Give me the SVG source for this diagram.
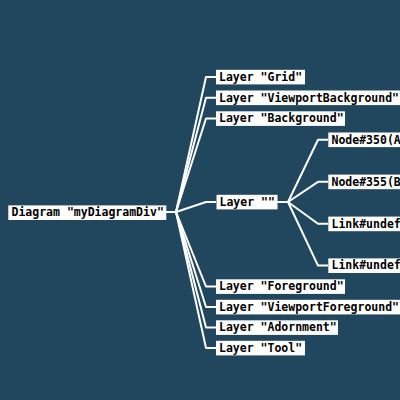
<svg xmlns="http://www.w3.org/2000/svg" width="400" height="400" viewBox="0 0 400 400">
<style>
.box{fill:#ffffff;}
.t{font-family:"DejaVu Sans Mono","Liberation Mono",monospace;font-size:11.5px;font-weight:bold;fill:#000000;}
.ln{fill:none;stroke:#ffffff;stroke-width:2;stroke-linejoin:round;}
</style>
<rect x="0" y="0" width="400" height="400" fill="#21475F"/>
<g id="connectors">
<path class="ln" d="M166,212 L176,212 L206,77 L216,77"/>
<path class="ln" d="M166,212 L176,212 L206,97.7 L216,97.7"/>
<path class="ln" d="M166,212 L176,212 L206,118.5 L216,118.5"/>
<path class="ln" d="M166,212 L176,212 L206,202 L216,202"/>
<path class="ln" d="M166,212 L176,212 L206,286.5 L216,286.5"/>
<path class="ln" d="M166,212 L176,212 L206,307 L216,307"/>
<path class="ln" d="M166,212 L176,212 L206,327.5 L216,327.5"/>
<path class="ln" d="M166,212 L176,212 L206,348 L216,348"/>
<path class="ln" d="M277.5,202 L288,202 L318,139.7 L328,139.7"/>
<path class="ln" d="M277.5,202 L288,202 L318,181.8 L328,181.8"/>
<path class="ln" d="M277.5,202 L288,202 L318,223.8 L328,223.8"/>
<path class="ln" d="M277.5,202 L288,202 L318,265.6 L328,265.6"/>
</g>
<g id="diagram"><rect class="box" x="8.3" y="205.4" width="158" height="14.6"/><text class="t" x="11.5" y="216.2">Diagram "myDiagramDiv"</text></g>
<g id="layer-grid"><rect class="box" x="216" y="69.8" width="89" height="14.6"/><text class="t" x="219" y="80.8">Layer "Grid"</text></g>
<g id="layer-viewportbackground"><rect class="box" x="216" y="90.5" width="186" height="14.6"/><text class="t" x="219" y="101.5">Layer "ViewportBackground"</text></g>
<g id="layer-background"><rect class="box" x="216" y="111.3" width="129" height="14.6"/><text class="t" x="219" y="122.3">Layer "Background"</text></g>
<g id="layer-empty"><rect class="box" x="216.5" y="194.8" width="61" height="14.6"/><text class="t" x="219.5" y="205.8">Layer ""</text></g>
<g id="node-350"><rect class="box" x="328.3" y="132.5" width="80" height="14.6"/><text class="t" x="331.5" y="143.5">Node#350(A</text></g>
<g id="node-355"><rect class="box" x="328.3" y="174.6" width="80" height="14.6"/><text class="t" x="331.5" y="185.6">Node#355(B</text></g>
<g id="link-1"><rect class="box" x="328.3" y="216.6" width="80" height="14.6"/><text class="t" x="331.5" y="227.6">Link#undef</text></g>
<g id="link-2"><rect class="box" x="328.3" y="258.4" width="80" height="14.6"/><text class="t" x="331.5" y="269.4">Link#undef</text></g>
<g id="layer-foreground"><rect class="box" x="216" y="279.3" width="129" height="14.6"/><text class="t" x="219" y="290.3">Layer "Foreground"</text></g>
<g id="layer-viewportforeground"><rect class="box" x="216" y="299.8" width="186" height="14.6"/><text class="t" x="219" y="310.8">Layer "ViewportForeground"</text></g>
<g id="layer-adornment"><rect class="box" x="216" y="320.3" width="122" height="14.6"/><text class="t" x="219" y="331.3">Layer "Adornment"</text></g>
<g id="layer-tool"><rect class="box" x="216" y="340.8" width="89" height="14.6"/><text class="t" x="219" y="351.8">Layer "Tool"</text></g>
</svg>
